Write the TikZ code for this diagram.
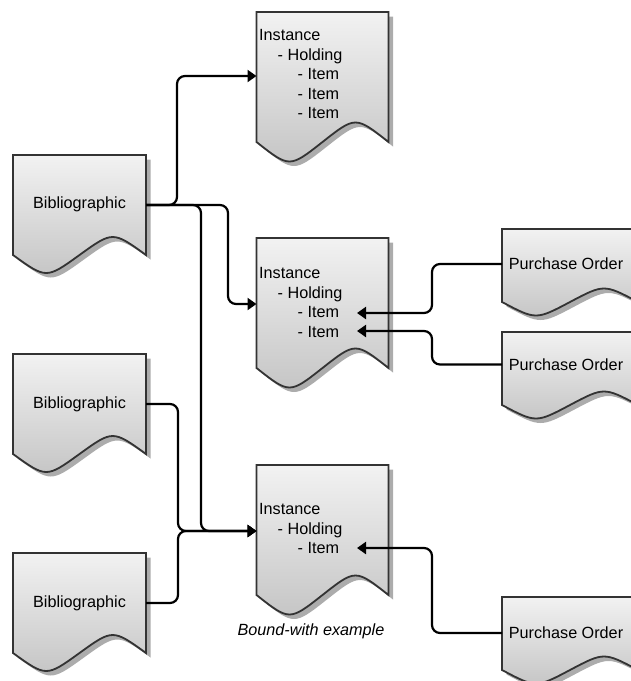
\documentclass[tikz,border=0pt]{standalone}
\usepackage{fontspec}
\setmainfont{Liberation Sans}
\usetikzlibrary{arrows.meta,calc}
\definecolor{bordc}{RGB}{51,51,51}
\definecolor{shadc}{RGB}{172,172,172}
\definecolor{topc}{RGB}{242,242,242}
\definecolor{botc}{RGB}{196,196,196}
\tikzset{
  docstyle/.style={draw=bordc, line width=1.8pt, line join=miter, top color=topc, bottom color=botc},
  docshadow/.style={fill=shadc},
  anchorbox/.style={inner sep=0pt, outer sep=0pt, draw=none, fill=none, rectangle},
  lbl/.style={font=\fontsize{16.2}{19.6}\selectfont, inner sep=0pt, text height=11.6pt, text depth=0pt},
  lines/.style={font=\fontsize{16.2}{19.6}\selectfont, inner sep=0pt, align=left, anchor=north west},
  capt/.style={font=\fontsize{16.2}{19.6}\selectfont\itshape, inner sep=0pt, text height=11.6pt, text depth=0pt},
  conn/.style={draw=black, line width=2.2pt, rounded corners=8pt, -{Triangle[length=9pt,width=12pt]}},
}
% #1 name, #2 x, #3 y (top), #4 width, #5 side height, #6 wave amplitude
\newcommand\docshape[6]{%
  \pgfmathsetmacro\dsxa{#2}%
  \pgfmathsetmacro\dsxb{#2+#4}%
  \pgfmathsetmacro\dsxm{#2+#4/2}%
  \pgfmathsetmacro\dsxq{#2+#4/4}%
  \pgfmathsetmacro\dsxr{#2+3*#4/4}%
  \pgfmathsetmacro\dsyb{#3+#5}%
  \pgfmathsetmacro\dsyu{#3+#5-2*#6}%
  \pgfmathsetmacro\dsyd{#3+#5+2*#6}%
  \fill[docshadow, shift={(4.5,4.5)}] (\dsxa,#3) -- (\dsxb,#3) -- (\dsxb,\dsyb)
     .. controls (\dsxr,\dsyu) .. (\dsxm,\dsyb) .. controls (\dsxq,\dsyd) .. (\dsxa,\dsyb) -- cycle;
  \draw[docstyle] (\dsxa,#3) -- (\dsxb,#3) -- (\dsxb,\dsyb)
     .. controls (\dsxr,\dsyu) .. (\dsxm,\dsyb) .. controls (\dsxq,\dsyd) .. (\dsxa,\dsyb) -- cycle;
  \node[anchorbox, minimum width=#4, minimum height=#5, anchor=north west] (#1) at (\dsxa,#3) {};
}
\begin{document}
\begin{tikzpicture}[x=1pt,y=-1pt]
\useasboundingbox (0,0) rectangle (631,681);
\clip (0,0) rectangle (631,681);

% Bibliographic records
\docshape{bib1}{13}{155}{133}{100}{12}
\docshape{bib2}{13}{354}{133}{100}{12}
\docshape{bib3}{13}{553}{133}{100}{12}
\node[lbl] (bib1t) at (79.5,203) {Bibliographic};
\node[lbl] (bib2t) at (79.5,403) {Bibliographic};
\node[lbl] (bib3t) at (79.5,602) {Bibliographic};

% Instances
\docshape{inst1}{256.5}{12}{132}{130}{13}
\docshape{inst2}{256.5}{238}{132}{130}{13}
\docshape{inst3}{256.5}{465}{132}{130}{13}
\node[lines] (inst1t) at (259,29.2) {Instance\\\hspace*{18.5pt}- Holding\\\hspace*{38.5pt}- Item\\\hspace*{38.5pt}- Item\\\hspace*{38.5pt}- Item};
\node[lines] (inst2t) at (259,267.2) {Instance\\\hspace*{18.5pt}- Holding\\\hspace*{38.5pt}- Item\\\hspace*{38.5pt}- Item};
\node[lines] (inst3t) at (259,503.2) {Instance\\\hspace*{18.5pt}- Holding\\\hspace*{38.5pt}- Item};
\node[capt] (capt) at (311,630) {Bound-with example};

% Purchase orders
\docshape{po1}{502}{229}{136}{73}{9}
\docshape{po2}{502}{332}{136}{73}{9}
\docshape{po3}{502}{597}{136}{73}{9}
\node[lbl] (po1t) at (566,264) {Purchase Order};
\node[lbl] (po2t) at (566,364.5) {Purchase Order};
\node[lbl] (po3t) at (566,633) {Purchase Order};

% Item targets
\coordinate (it21) at (357,313);
\coordinate (it22) at (357,331);
\coordinate (it31) at (357,548);

% Connectors
\draw[conn] (bib1.east) -- ++(31,0) |- ([yshift=1pt]inst1.west);
\draw[conn] (bib1.east) -- ++(82,0) |- ([yshift=-1pt]inst2.west);
\draw[conn] (bib1.east) -- ++(55,0) |- ([yshift=-1pt]inst3.west);
\draw[conn] (bib2.east) -- ++(32,0) |- ([yshift=-1pt]inst3.west);
\draw[conn] (bib3.east) -- ++(32,0) |- ([yshift=-1pt]inst3.west);
\draw[conn] ([yshift=1.5pt]po1.west) -- ++(-70,0) |- (it21);
\draw[conn] ([yshift=4pt]po2.west) -- ++(-70,0) |- (it22);
\draw[conn] ([yshift=0.5pt]po3.west) -- ++(-70,0) |- (it31);
\end{tikzpicture}
\end{document}
